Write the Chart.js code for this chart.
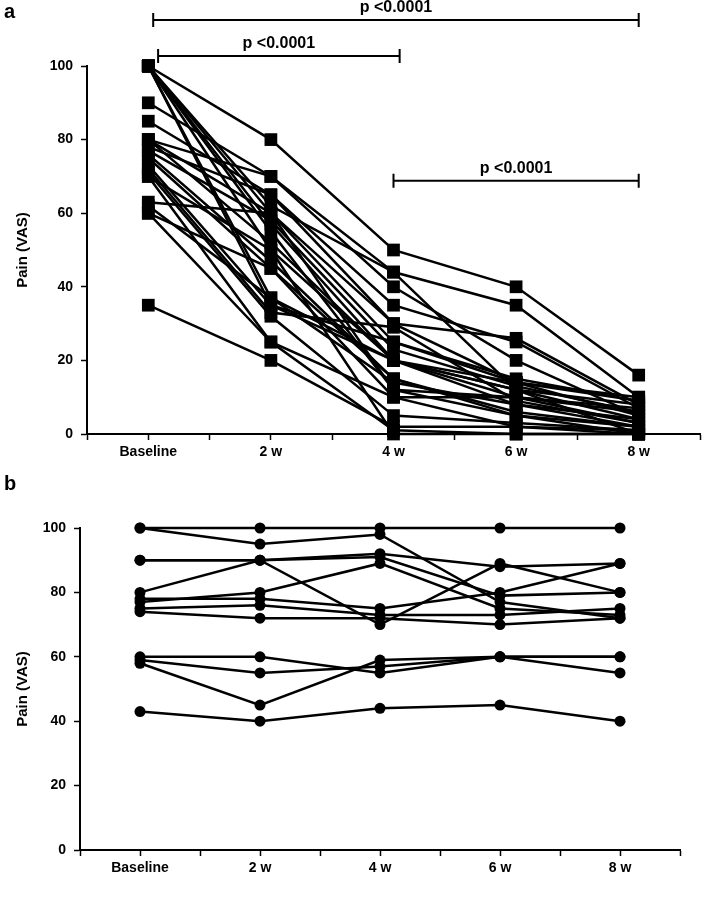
<!DOCTYPE html>
<html>
<head>
<meta charset="utf-8">
<script src="https://cdn.jsdelivr.net/npm/chart.js@4.4.0/dist/chart.umd.min.js"></script>
<style>
  html, body { margin: 0; padding: 0; background: #fff; }
  .panel { position: relative; width: 709px; }
</style>
</head>
<body>
<div class="panel" style="height:470px"><canvas id="chartA" width="709" height="470"></canvas></div>
<div class="panel" style="height:436px"><canvas id="chartB" width="709" height="436"></canvas></div>
<script>
// time points
const categories = ['Baseline', '2 w', '4 w', '6 w', '8 w'];
const yTicks = [0, 20, 40, 60, 80, 100];

// panel a: one value per patient at each time point (same index = same patient)
const aBaseline = [100, 100, 100, 100, 100, 100, 100, 90, 85, 80, 80, 78, 77, 76, 75, 73, 72, 71, 70, 70, 63, 62, 60, 60, 35, 100, 80];
const aWeek2    = [80, 62, 60, 57, 55, 37, 50, 70, 65, 60, 52, 65, 58, 47, 45, 35, 33, 32, 25, 50, 60, 37, 45, 25, 20, 35, 70];
const aWeek4    = [50, 44, 30, 20, 12, 14, 0, 40, 35, 25, 20, 30, 23, 15, 10, 20, 29, 5, 1, 20, 12, 20, 15, 10, 2, 25, 44];
const aWeek6    = [40, 35, 26, 10, 5, 8, 0, 20, 25, 15, 12, 14, 13, 6, 2, 12, 9, 3, 0, 14, 10, 8, 5, 10, 2, 14, 12];
const aWeek8    = [16, 10, 8, 3, 0, 2, 0, 5, 7, 9, 4, 5, 6, 2, 0, 8, 3, 1, 0, 10, 6, 4, 2, 7, 1, 9, 0];

// panel b
const bBaseline = [100, 100, 90, 90, 80, 78, 77, 75, 74, 60, 59, 58, 43];
const bWeek2    = [100, 95, 90, 90, 90, 78, 80, 76, 72, 60, 55, 45, 40];
const bWeek4    = [100, 98, 92, 70, 91, 75, 89, 73, 72, 55, 57, 59, 44];
const bWeek6    = [100, 77, 88, 89, 79, 80, 75, 73, 70, 60, 60, 60, 45];
const bWeek8    = [100, 72, 89, 80, 80, 89, 73, 75, 72, 60, 55, 60, 40];

// significance brackets for panel a (x in category index, y in VAS units)
const bracketFrom  = [0.04, 0.08, 2.0];
const bracketTo    = [4.0, 2.05, 4.0];
const bracketLevel = [112.5, 102.7, 68.8];
const bracketText  = ['p <0.0001', 'p <0.0001', 'p <0.0001'];

const FONT = '"Liberation Sans", Arial, sans-serif';

function buildSets(cols, style, radius) {
    const sets = [];
    for (let i = 0; i < cols[0].length; i++) {
        sets.push({
            data: cols.map((c, k) => ({ x: k, y: c[i] })),
            borderColor: '#000',
            backgroundColor: '#000',
            borderWidth: 2.5,
            pointStyle: style,
            pointRadius: radius,
            pointBorderWidth: 0,
            pointHoverRadius: radius,
            clip: false
        });
    }
    return sets;
}

function axes(yWidth, xHeight) {
    return {
        x: {
            type: 'linear', min: -0.5, max: 4.5,
            afterFit: s => { s.height = xHeight; },
            afterBuildTicks: s => {
                s.ticks = [];
                for (let v = -0.5; v <= 4.5; v += 0.5) s.ticks.push({ value: v });
            },
            ticks: {
                autoSkip: false, maxRotation: 0, padding: 4,
                color: '#000', font: { family: FONT, size: 14, weight: 'bold' },
                callback: v => Number.isInteger(v) ? categories[v] : ''
            },
            grid: { drawOnChartArea: false, drawTicks: true, tickLength: 6, color: '#000', tickWidth: 1.5 },
            border: { display: true, color: '#000', width: 2 }
        },
        y: {
            min: 0, max: 100,
            afterFit: s => { s.width = yWidth; },
            afterBuildTicks: s => { s.ticks = yTicks.map(v => ({ value: v })); },
            ticks: { padding: 8, color: '#000', font: { family: FONT, size: 14, weight: 'bold' } },
            title: { display: true, text: 'Pain (VAS)', color: '#000', padding: { top: 14, bottom: 0 },
                     font: { family: FONT, size: 15, weight: 'bold' } },
            grid: { drawOnChartArea: false, drawTicks: true, tickLength: 6, color: '#000', tickWidth: 1.5 },
            border: { display: true, color: '#000', width: 2 }
        }
    };
}

const letterPlugin = {
    id: 'letter',
    afterDraw(chart, args, opts) {
        const ctx = chart.ctx;
        ctx.save();
        ctx.fillStyle = '#000';
        ctx.font = 'bold 20px ' + FONT;
        ctx.textBaseline = 'top';
        ctx.fillText(opts.text, 4, opts.top);
        ctx.restore();
    }
};

const bracketPlugin = {
    id: 'brackets',
    afterDraw(chart) {
        const ctx = chart.ctx, xs = chart.scales.x, ys = chart.scales.y;
        ctx.save();
        ctx.strokeStyle = '#000';
        ctx.fillStyle = '#000';
        ctx.lineWidth = 2;
        ctx.font = 'bold 16px ' + FONT;
        ctx.textAlign = 'center';
        ctx.textBaseline = 'bottom';
        for (let i = 0; i < bracketText.length; i++) {
            const x1 = xs.getPixelForValue(bracketFrom[i]);
            const x2 = xs.getPixelForValue(bracketTo[i]);
            const y = ys.getPixelForValue(bracketLevel[i]);
            ctx.beginPath();
            ctx.moveTo(x1, y); ctx.lineTo(x2, y);
            ctx.moveTo(x1, y - 7); ctx.lineTo(x1, y + 7);
            ctx.moveTo(x2, y - 7); ctx.lineTo(x2, y + 7);
            ctx.stroke();
            ctx.fillText(bracketText[i], (x1 + x2) / 2, y - 4);
        }
        ctx.restore();
    }
};

new Chart(document.getElementById('chartA'), {
    type: 'line',
    data: { datasets: buildSets([aBaseline, aWeek2, aWeek4, aWeek6, aWeek8], 'rect', 9) },
    options: {
        responsive: false, animation: false,
        layout: { padding: { left: 0, top: 66, right: 1, bottom: 0 } },
        plugins: { legend: { display: false }, tooltip: { enabled: false },
                   letter: { text: 'a', top: 2 } },
        scales: axes(87, 36)
    },
    plugins: [letterPlugin, bracketPlugin]
});

new Chart(document.getElementById('chartB'), {
    type: 'line',
    data: { datasets: buildSets([bBaseline, bWeek2, bWeek4, bWeek6, bWeek8], 'circle', 5.5) },
    options: {
        responsive: false, animation: false,
        layout: { padding: { left: 0, top: 58, right: 29, bottom: 0 } },
        plugins: { legend: { display: false }, tooltip: { enabled: false },
                   letter: { text: 'b', top: 4 } },
        scales: axes(80, 56)
    },
    plugins: [letterPlugin]
});
</script>
</body>
</html>
